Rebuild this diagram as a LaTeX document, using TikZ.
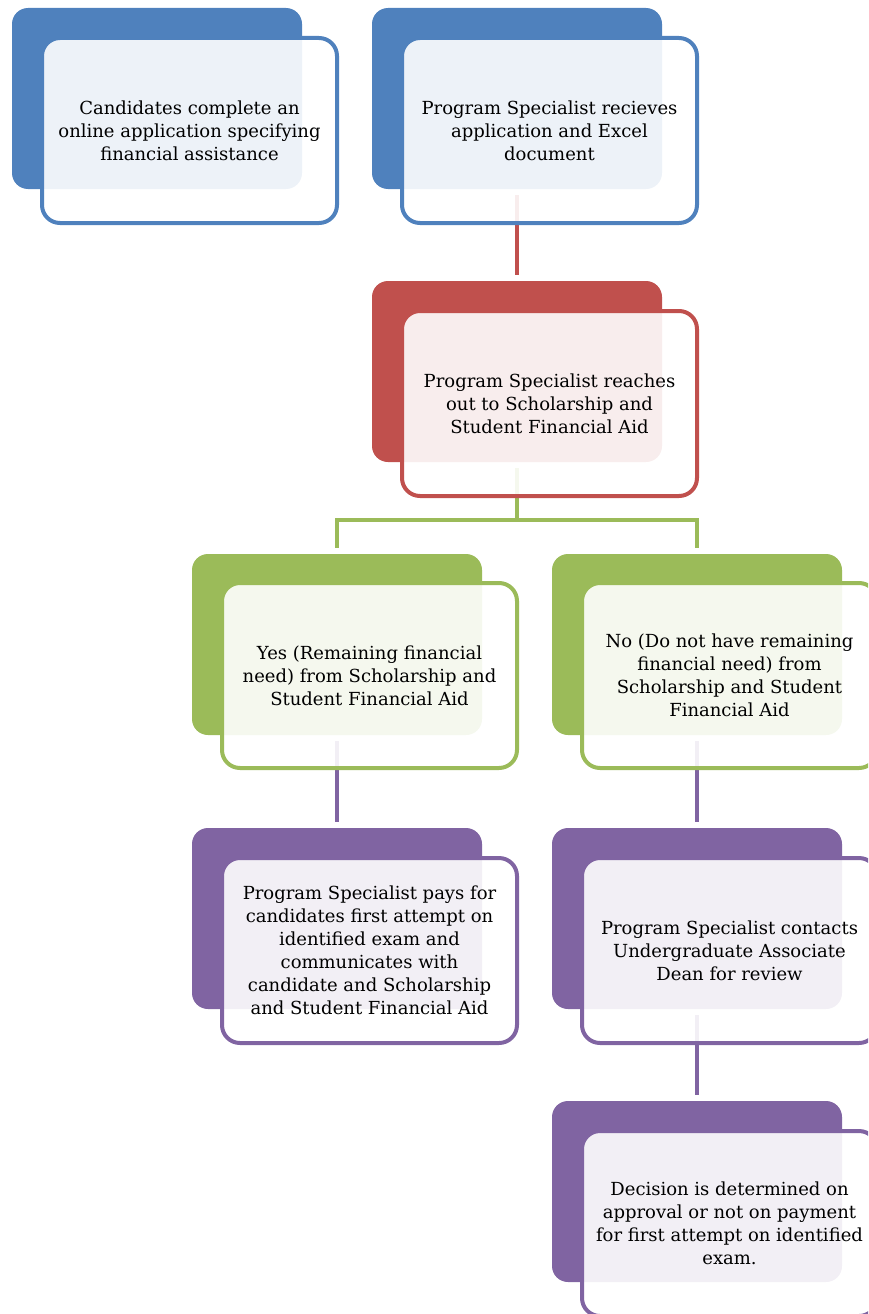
\documentclass[tikz,border=0pt]{standalone}
\usepackage{fontspec}
\setmainfont{DejaVu Serif}
\definecolor{cblue}{HTML}{4F81BD}
\definecolor{cred}{HTML}{C0504D}
\definecolor{cgreen}{HTML}{9BBB59}
\definecolor{cpurple}{HTML}{8064A2}
\tikzset{
  backbox/.style={rectangle, rounded corners=16pt, fill=#1, minimum width=290pt, minimum height=181pt, inner sep=0pt, outer sep=0pt, anchor=north west},
  frontbox/.style={rectangle, rounded corners=18pt, draw=#1, line width=4pt, fill=white, fill opacity=0.9, text opacity=1, draw opacity=1, minimum width=295pt, minimum height=185pt, inner sep=2pt, anchor=north west, align=center, text=black, font=\fontsize{18}{23}\selectfont},
  link/.style={draw=#1, line width=4.5pt, shorten <=6pt, shorten >=6pt},
}
\begin{document}
\begin{tikzpicture}[x=1pt,y=-1pt]
\useasboundingbox (0,0) rectangle (868,1314);
\clip (0,0) rectangle (868,1314);
% back boxes
\node[backbox=cblue] (b1) at (12,8) {};
\node[backbox=cblue] (b2) at (372,8) {};
\node[backbox=cred] (b3) at (372,281) {};
\node[backbox=cgreen] (b4) at (192,554) {};
\node[backbox=cgreen] (b5) at (552,554) {};
\node[backbox=cpurple] (b6) at (192,828) {};
\node[backbox=cpurple] (b7) at (552,828) {};
\node[backbox=cpurple] (b8) at (552,1101) {};
% connectors
\draw[link=cred] (b2.south) -- (b3.north);
\draw[link=cgreen] (b3.south) -- ++(0,58) -| (b4.north);
\draw[link=cgreen] (b3.south) -- ++(0,58) -| (b5.north);
\draw[link=cpurple] (b4.south) -- (b6.north);
\draw[link=cpurple] (b5.south) -- (b7.north);
\draw[link=cpurple] (b7.south) -- (b8.north);
% front boxes
\node[frontbox=cblue] (f1) at (40,36) {Candidates complete an\\online application specifying\\financial assistance};
\node[frontbox=cblue] (f2) at (400,36) {Program Specialist recieves\\application and Excel\\document};
\node[frontbox=cred] (f3) at (400,309) {Program Specialist reaches\\out to Scholarship and\\Student Financial Aid};
\node[frontbox=cgreen] (f4) at (220,581) {Yes (Remaining financial\\need) from Scholarship and\\Student Financial Aid};
\node[frontbox=cgreen] (f5) at (580,581) {No (Do not have remaining\\financial need) from\\Scholarship and Student\\Financial Aid};
\node[frontbox=cpurple] (f6) at (220,856) {Program Specialist pays for\\candidates first attempt on\\identified exam and\\communicates with\\candidate and Scholarship\\and Student Financial Aid};
\node[frontbox=cpurple] (f7) at (580,856) {Program Specialist contacts\\Undergraduate Associate\\Dean for review};
\node[frontbox=cpurple] (f8) at (580,1129) {Decision is determined on\\approval or not on payment\\for first attempt on identified\\exam.};
\end{tikzpicture}
\end{document}
